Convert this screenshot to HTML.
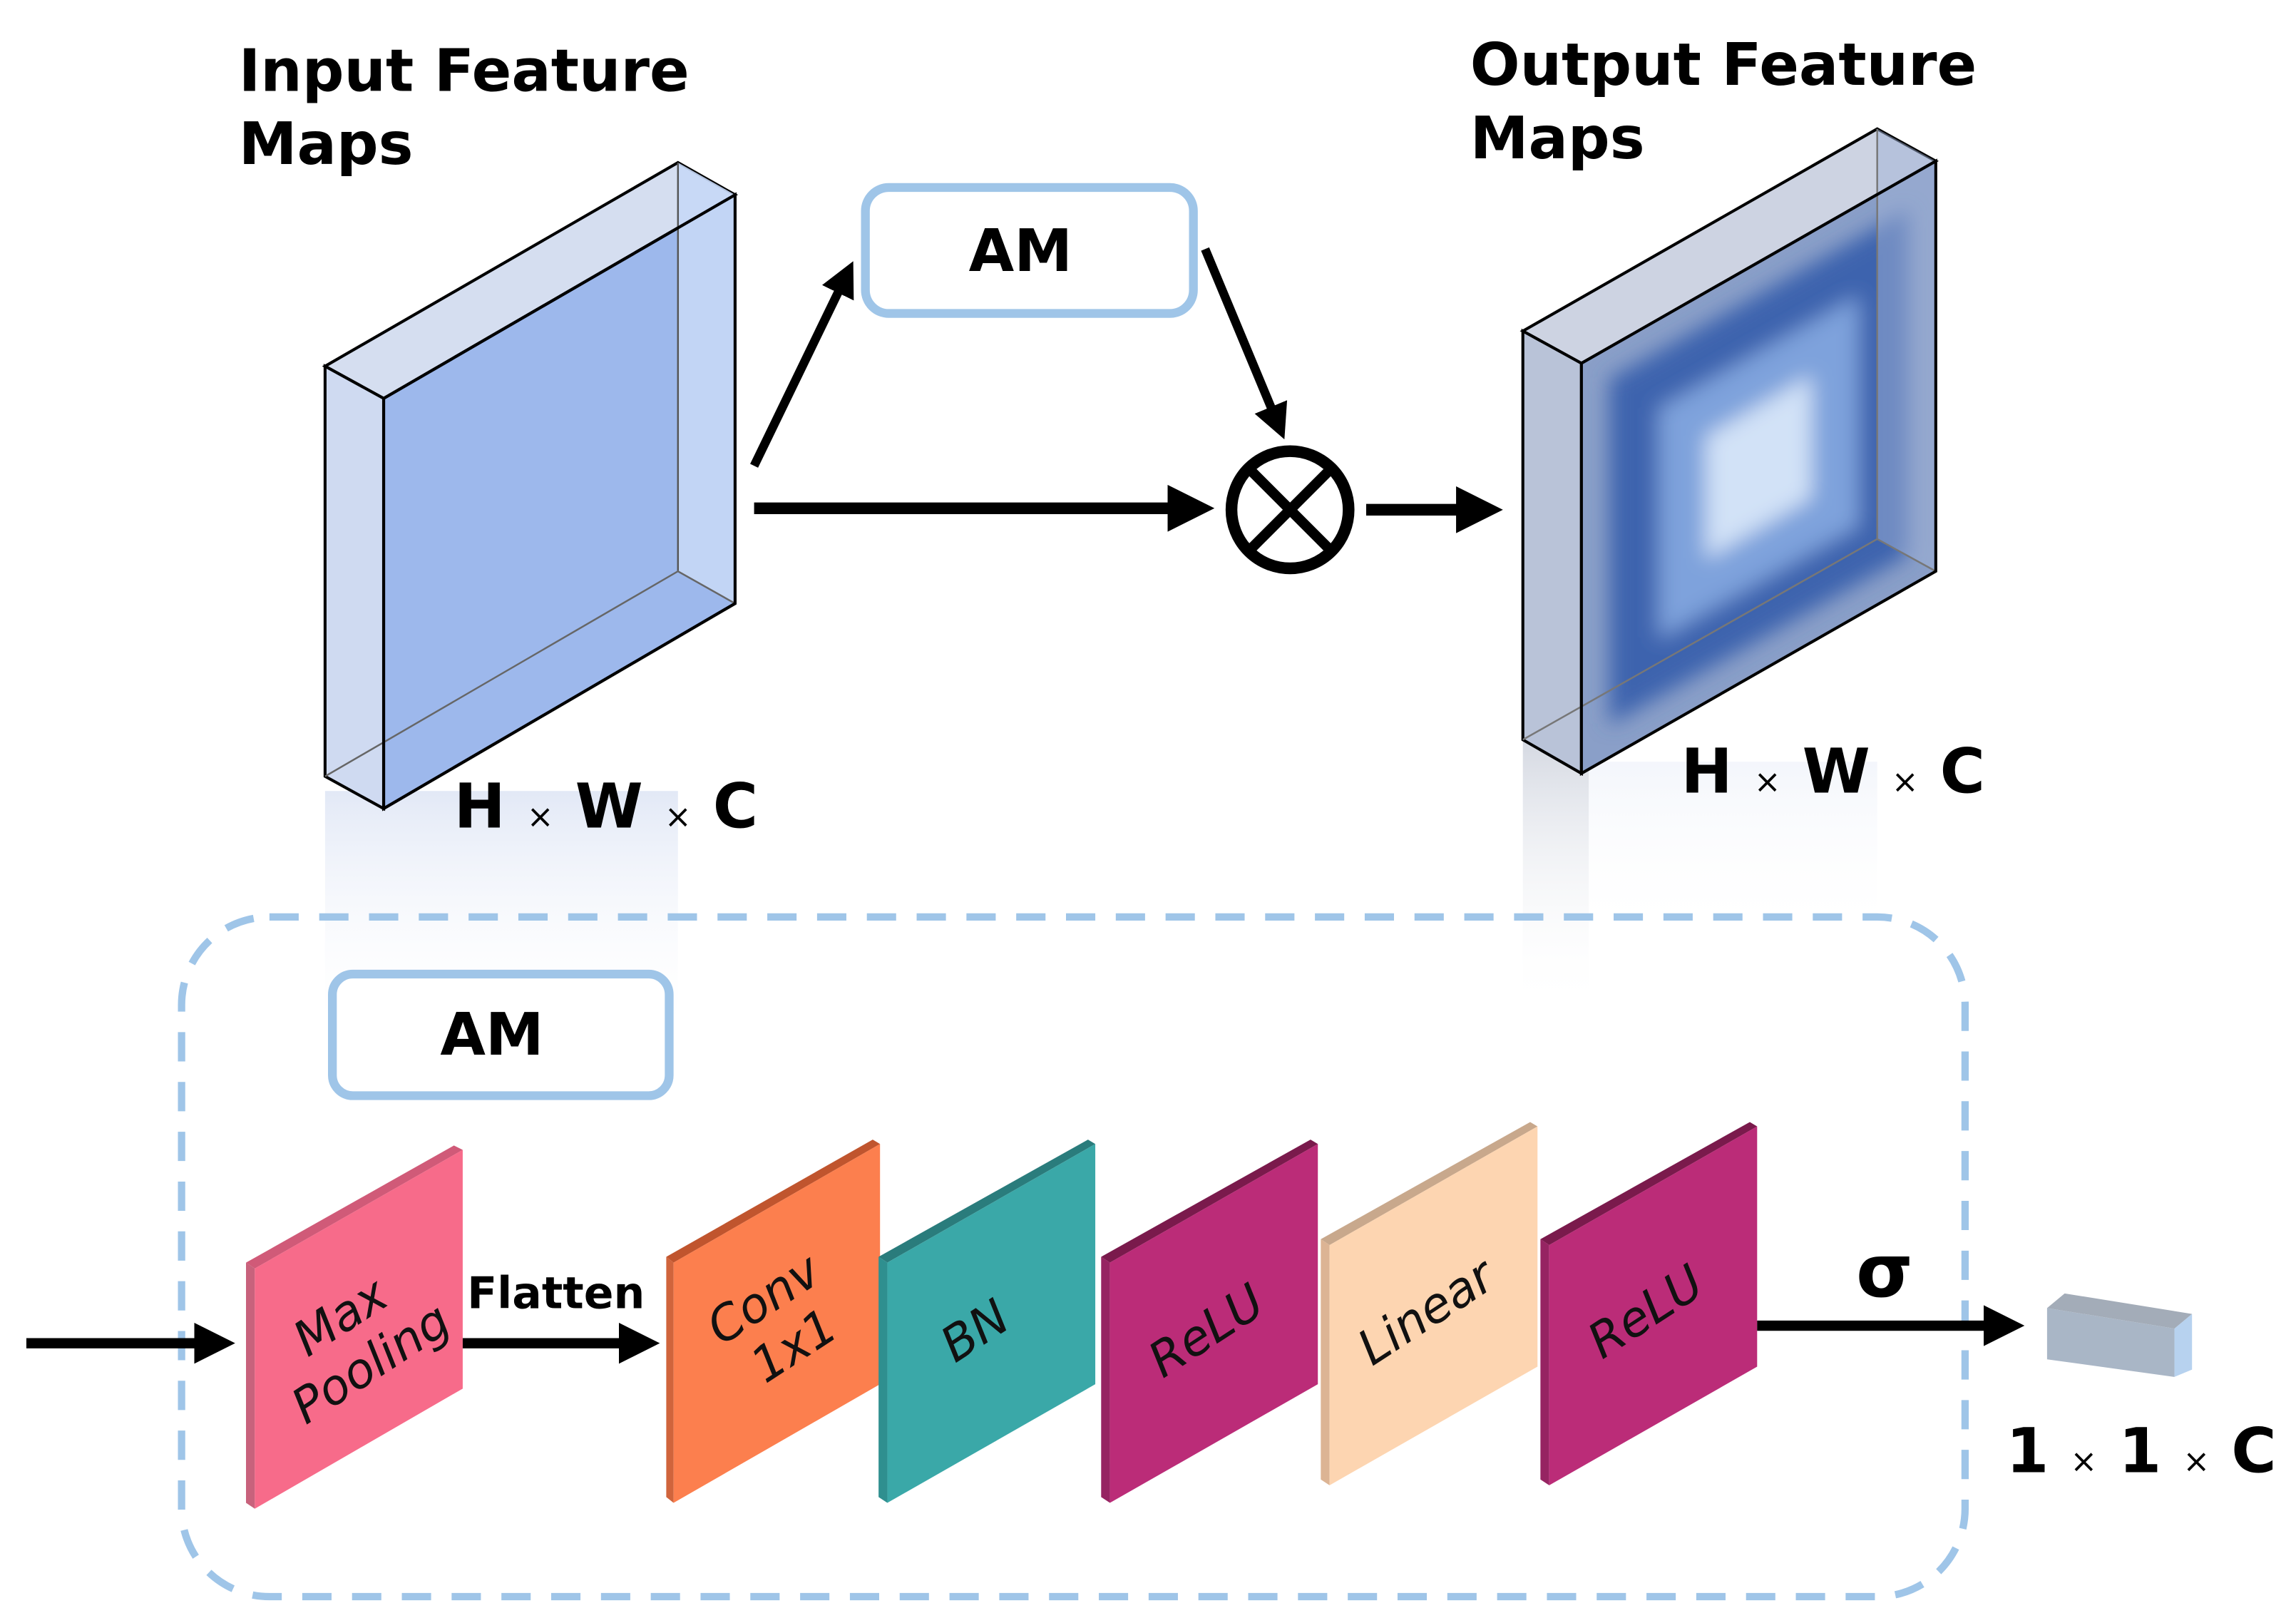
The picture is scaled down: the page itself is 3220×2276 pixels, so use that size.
<!DOCTYPE html>
<html><head><meta charset="utf-8"><style>
html,body{margin:0;padding:0;background:#fff;}
svg{display:block;}
text{font-family:"DejaVu Sans","Liberation Sans",sans-serif;}
.b{font-weight:bold;fill:#000;}
.it{font-family:"DejaVu Sans","Liberation Sans",sans-serif;font-style:italic;font-size:33px;fill:#111;}
</style></head><body>
<svg width="3220" height="2276" viewBox="0 0 1568 1108" preserveAspectRatio="none" xmlns="http://www.w3.org/2000/svg">
<defs>
<linearGradient id="sh" x1="0" y1="0" x2="0" y2="1">
<stop offset="0" stop-color="#dfe6f5" stop-opacity="0.9"/>
<stop offset="1" stop-color="#fff" stop-opacity="0"/>
</linearGradient>
<linearGradient id="sh2" x1="0" y1="0" x2="0" y2="1">
<stop offset="0" stop-color="#d5d9e2"/>
<stop offset="1" stop-color="#fff" stop-opacity="0"/>
</linearGradient>
<filter id="bl" x="-10%" y="-10%" width="120%" height="120%"><feGaussianBlur stdDeviation="7"/></filter>
<clipPath id="fc"><polygon points="1080,248 1322,110 1322,390 1080,528"/></clipPath>
<marker id="ah" markerWidth="4" markerHeight="4" refX="2.2" refY="2" orient="auto" markerUnits="strokeWidth"><path d="M0,0 L4,2 L0,4 Z" fill="#000"/></marker>
</defs>

<!-- shadows -->
<rect x="222" y="540" width="241" height="170" fill="url(#sh)"/>
<rect x="1040" y="505" width="45" height="185" fill="url(#sh2)"/>
<rect x="1085" y="520" width="197" height="120" fill="url(#sh)" opacity="0.4"/>

<!-- titles -->
<text class="b" x="163" y="62" font-size="40">Input Feature</text>
<text class="b" x="163" y="112" font-size="40">Maps</text>
<text class="b" x="1004" y="58" font-size="40">Output Feature</text>
<text class="b" x="1004" y="108" font-size="40">Maps</text>

<!-- input box -->
<polygon points="222,250 463,111 502,133 262,272" fill="#d5def0" stroke="#000" stroke-width="2"/>
<polygon points="222,250 262,272 262,552 222,530" fill="#cfdaf1" stroke="#000" stroke-width="2"/>
<polygon points="262,272 502,133 502,412 262,552" fill="#9db8ec" stroke="#000" stroke-width="2"/>
<polygon points="463,111 502,133 502,412 463,390" fill="#c6d8f6" opacity="0.9"/>
<line x1="463" y1="111" x2="463" y2="390" stroke="#555" stroke-width="1.2"/>
<polyline points="222,530 463,390 502,412" fill="none" stroke="#666" stroke-width="1.2"/>
<polygon points="262,272 502,133 502,412 262,552" fill="none" stroke="#000" stroke-width="2"/>

<!-- output box -->
<polygon points="1040,226 1282,88 1322,110 1080,248" fill="#cdd3e2" stroke="#000" stroke-width="2"/>
<polygon points="1040,226 1080,248 1080,528 1040,505" fill="#b9c3d8" stroke="#000" stroke-width="2"/>
<g clip-path="url(#fc)">
<polygon points="1080,248 1322,110 1322,390 1080,528" fill="#8a9fc8"/>
<g filter="url(#bl)">
<polygon points="1099,259 1303,143 1303,379 1099,495" fill="#3c64ae"/>
<polygon points="1133,279 1269,202 1269,359 1133,436" fill="#7ea2dc"/>
<polygon points="1165,298 1237,256 1237,340 1165,382" fill="#d2e2f7"/>
</g>
</g>
<polygon points="1282,88 1322,110 1322,390 1282,368" fill="#9fb2d6" opacity="0.5"/>
<line x1="1282" y1="88" x2="1282" y2="368" stroke="#777" stroke-width="1.2"/>
<polyline points="1040,505 1282,368 1322,390" fill="none" stroke="#777" stroke-width="1.2"/>
<polygon points="1080,248 1322,110 1322,390 1080,528" fill="none" stroke="#000" stroke-width="2"/>

<!-- HWC labels -->
<text class="b" x="310" y="565" font-size="42">H <tspan font-size="22" font-weight="normal">×</tspan> W <tspan font-size="22" font-weight="normal">×</tspan> C</text>
<text class="b" x="1148" y="541" font-size="42">H <tspan font-size="22" font-weight="normal">×</tspan> W <tspan font-size="22" font-weight="normal">×</tspan> C</text>

<!-- AM top -->
<rect x="591" y="128" width="224" height="86" rx="16" fill="#fff" stroke="#9fc5e8" stroke-width="6"/>
<text class="b" x="697" y="185" font-size="40" text-anchor="middle">AM</text>

<!-- arrows top -->
<line x1="515" y1="318" x2="578" y2="188" stroke="#000" stroke-width="6" marker-end="url(#ah)"/>
<line x1="823" y1="170" x2="873" y2="290" stroke="#000" stroke-width="6" marker-end="url(#ah)"/>
<line x1="515" y1="347" x2="815" y2="347" stroke="#000" stroke-width="8" marker-end="url(#ah)"/>
<circle cx="881" cy="348" r="40" fill="#fff" stroke="#000" stroke-width="8"/>
<line x1="853" y1="320" x2="909" y2="376" stroke="#000" stroke-width="7"/>
<line x1="909" y1="320" x2="853" y2="376" stroke="#000" stroke-width="7"/>
<line x1="933" y1="348" x2="1012" y2="348" stroke="#000" stroke-width="8" marker-end="url(#ah)"/>

<!-- dashed container -->
<rect x="124" y="626" width="1218" height="464" rx="60" fill="none" stroke="#9fc5e8" stroke-width="5" stroke-dasharray="20 14"/>

<!-- AM bottom -->
<rect x="227" y="665" width="230" height="83" rx="14" fill="#fff" stroke="#9fc5e8" stroke-width="6"/>
<text class="b" x="336" y="720" font-size="40" text-anchor="middle">AM</text>

<!-- blocks -->
<g>
<polygon points="168,862 310,782 316,785 174,866" fill="#d05a78"/>
<polygon points="168,862 174,866 174,1030 168,1026" fill="#c8627c"/>
<polygon points="174,866 316,785 316,948 174,1030" fill="#f76b8a"/>
<text class="it" transform="translate(243,915) rotate(-33)" text-anchor="middle"><tspan x="0" y="-8">Max</tspan><tspan x="0" y="30">Pooling</tspan></text>
</g>
<g>
<polygon points="455,858 596,778 601,781 460,862" fill="#c0552e"/>
<polygon points="455,858 460,862 460,1026 455,1022" fill="#d0643c"/>
<polygon points="460,862 601,781 601,945 460,1026" fill="#fc7f4e"/>
<text class="it" transform="translate(532,903) rotate(-33)" text-anchor="middle"><tspan x="0" y="-8">Conv</tspan><tspan x="0" y="30">1x1</tspan></text>
</g>
<g>
<polygon points="600,858 743,778 748,781 606,862" fill="#2a7c7c"/>
<polygon points="600,858 606,862 606,1026 600,1022" fill="#2f8f8f"/>
<polygon points="606,862 748,781 748,945 606,1026" fill="#3aa8a8"/>
<text class="it" transform="translate(672,918) rotate(-33)" text-anchor="middle">BN</text>
</g>
<g>
<polygon points="752,858 895,778 900,781 758,862" fill="#7a1a4c"/>
<polygon points="752,858 758,862 758,1026 752,1022" fill="#962462"/>
<polygon points="758,862 900,781 900,945 758,1026" fill="#bb2c78"/>
<text class="it" transform="translate(830,918) rotate(-33)" text-anchor="middle">ReLU</text>
</g>
<g>
<polygon points="902,846 1045,766 1050,769 908,850" fill="#c8a88c"/>
<polygon points="902,846 908,850 908,1014 902,1010" fill="#dcb494"/>
<polygon points="908,850 1050,769 1050,933 908,1014" fill="#fdd5b1"/>
<text class="it" transform="translate(980,905) rotate(-33)" text-anchor="middle">Linear</text>
</g>
<g>
<polygon points="1052,846 1195,766 1200,769 1058,850" fill="#7a1a4c"/>
<polygon points="1052,846 1058,850 1058,1014 1052,1010" fill="#962462"/>
<polygon points="1058,850 1200,769 1200,933 1058,1014" fill="#bb2c78"/>
<text class="it" transform="translate(1130,905) rotate(-33)" text-anchor="middle">ReLU</text>
</g>

<!-- bottom arrows -->
<line x1="18" y1="917" x2="148" y2="917" stroke="#000" stroke-width="7" marker-end="url(#ah)"/>
<line x1="316" y1="917" x2="438" y2="917" stroke="#000" stroke-width="7" marker-end="url(#ah)"/>
<text class="b" x="319" y="893" font-size="30">Flatten</text>
<line x1="1200" y1="905" x2="1370" y2="905" stroke="#000" stroke-width="7" marker-end="url(#ah)"/>
<text class="b" x="1287" y="885" font-size="50" text-anchor="middle">σ</text>

<!-- small box -->
<polygon points="1398,893 1410,883 1497,897 1485,907" fill="#a3acb8"/>
<polygon points="1398,893 1485,907 1485,940 1398,928" fill="#a9b6c6"/>
<polygon points="1485,907 1497,897 1497,935 1485,940" fill="#b7d2ef"/>
<text class="b" x="1370" y="1005" font-size="42">1 <tspan font-size="22" font-weight="normal">×</tspan> 1 <tspan font-size="22" font-weight="normal">×</tspan> C</text>
</svg>
</body></html>
